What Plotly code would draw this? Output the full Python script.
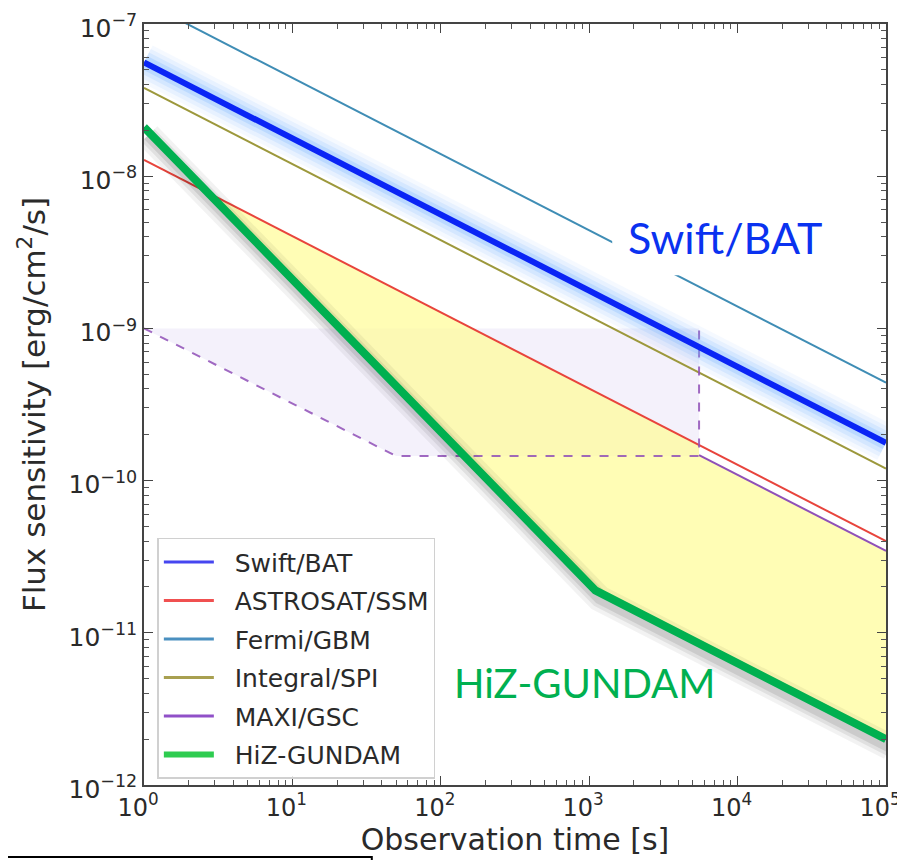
import plotly.graph_objects as go

# ---- data (observation time [s], flux sensitivity [erg/cm2/s]) ----
t_swift = [1, 1e5]
f_swift = [5.6e-8, 1.77e-10]

t_astro = [1, 1e5]
f_astro = [1.28e-8, 4.0e-11]

t_fermi = [1, 1e5]
f_fermi = [1.4e-7, 4.4e-10]

t_integral = [1, 1e5]
f_integral = [3.8e-8, 1.2e-10]

t_maxi_dash = [1, 50, 5500, 5500]
f_maxi_dash = [1e-9, 1.45e-10, 1.45e-10, 1.02e-9]

t_maxi = [5500, 1e5]
f_maxi = [1.47e-10, 3.45e-11]

t_hiz = [1, 1100, 1e5]
f_hiz = [2.1e-8, 1.9e-11, 2.0e-12]

# shaded regions
t_lav = [1, 50, 5500, 5500, 1]
f_lav = [1e-9, 1.45e-10, 1.45e-10, 1e-9, 1e-9]

t_yel = [2.69, 5500, 5500, 1e5, 1e5, 1100, 2.69]
f_yel = [7.8e-9, 1.72e-10, 1.47e-10, 3.45e-11, 2.0e-12, 1.9e-11, 7.8e-9]

x_ticks = [1, 10, 100, 1e3, 1e4, 1e5]
x_ticktext = ["10<sup>0</sup>", "10<sup>1</sup>", "10<sup>2</sup>", "10<sup>3</sup>", "10<sup>4</sup>", "10<sup>5</sup>"]
y_ticks = [1e-12, 1e-11, 1e-10, 1e-9, 1e-8, 1e-7]
y_ticktext = ["10<sup>\u221212</sup>", "10<sup>\u221211</sup>", "10<sup>\u221210</sup>",
              "10<sup>\u22129</sup>", "10<sup>\u22128</sup>", "10<sup>\u22127</sup>"]

legend_names = ["Swift/BAT", "ASTROSAT/SSM", "Fermi/GBM", "Integral/SPI", "MAXI/GSC", "HiZ-GUNDAM"]
legend_colors = ["#4646f0", "#f05050", "#4a90c0", "#a8a050", "#9050c8", "#2ecc50"]
legend_widths = [3, 3, 3, 3, 3, 6]

C_SWIFT = "#0a24f5"
C_ASTRO = "#e8443c"
C_FERMI = "#3f8db5"
C_INTEG = "#9c983c"
C_MAXI = "#9050b8"
C_HIZ = "#00b050"

fig = go.Figure()

# fills
fig.add_trace(go.Scatter(x=t_lav, y=f_lav, mode="lines", fill="toself",
                         fillcolor="rgba(205,190,235,0.22)", line=dict(width=0),
                         showlegend=False, hoverinfo="skip"))
fig.add_trace(go.Scatter(x=t_yel, y=f_yel, mode="lines", fill="toself",
                         fillcolor="rgba(255,252,150,0.70)", line=dict(width=0),
                         showlegend=False, hoverinfo="skip"))

# thin instrument lines
fig.add_trace(go.Scatter(x=t_fermi, y=f_fermi, mode="lines", line=dict(color=C_FERMI, width=2),
                         showlegend=False))
fig.add_trace(go.Scatter(x=t_integral, y=f_integral, mode="lines", line=dict(color=C_INTEG, width=2),
                         showlegend=False))
fig.add_trace(go.Scatter(x=t_astro, y=f_astro, mode="lines", line=dict(color=C_ASTRO, width=2),
                         showlegend=False))
fig.add_trace(go.Scatter(x=t_maxi_dash, y=f_maxi_dash, mode="lines",
                         line=dict(color=C_MAXI, width=2, dash="dash"), opacity=0.85,
                         showlegend=False))
fig.add_trace(go.Scatter(x=t_maxi, y=f_maxi, mode="lines", line=dict(color=C_MAXI, width=2),
                         showlegend=False))

# Swift/BAT glow + line
for w, a in [(38, 0.07), (30, 0.10), (22, 0.15), (14, 0.24)]:
    fig.add_trace(go.Scatter(x=t_swift, y=f_swift, mode="lines",
                             line=dict(color=f"rgba(110,175,255,{a})", width=w),
                             showlegend=False, hoverinfo="skip"))
fig.add_trace(go.Scatter(x=t_swift, y=f_swift, mode="lines", line=dict(color=C_SWIFT, width=6),
                         showlegend=False))

# HiZ-GUNDAM shadow (shifted overlay axes) and line
for w, a in [(26, 0.05), (18, 0.07), (11, 0.09)]:
    fig.add_trace(go.Scatter(x=t_hiz, y=f_hiz, mode="lines", xaxis="x2", yaxis="y2",
                             line=dict(color=f"rgba(0,0,0,{a})", width=w),
                             showlegend=False, hoverinfo="skip"))
fig.add_trace(go.Scatter(x=t_hiz, y=f_hiz, mode="lines", xaxis="x3", yaxis="y3",
                         line=dict(color=C_HIZ, width=8), showlegend=False))

# legend entries
for i, (n, c, w) in enumerate(zip(legend_names, legend_colors, legend_widths)):
    fig.add_trace(go.Scatter(x=[None], y=[None], mode="lines", name="\u00a0\u00a0" + n,
                             line=dict(color=c, width=w), legendgroup=f"g{i}"))

minor_x = [k * 10 ** e for e in range(0, 5) for k in range(2, 10)]
minor_y = [k * 10.0 ** e for e in range(-12, -7) for k in range(2, 10)]

common = dict(type="log", showgrid=False, zeroline=False, showline=True, linecolor="#444",
              linewidth=1.5, mirror="allticks", ticks="inside", ticklen=9, tickwidth=1.3,
              tickcolor="#444", automargin=False, ticklabeloverflow="allow")

# page body has an 8px margin: figure is sized so that it ends at the window edge
fig.update_layout(
    width=897, height=852,
    margin=dict(l=136, r=19, t=16, b=75),
    paper_bgcolor="white", plot_bgcolor="white",
    xaxis=dict(range=[0, 5], tickmode="array", tickvals=x_ticks, ticktext=x_ticktext,
               tickfont=dict(family="DejaVu Sans", size=24, color="#2a2a2a"), ticklabelshift=-6,
               minor=dict(tickmode="array", tickvals=minor_x, ticks="inside", ticklen=5,
                          tickcolor="#555", showgrid=False),
               title=dict(text="Observation time [s]", standoff=3,
                          font=dict(family="DejaVu Sans", size=30, color="#2a2a2a")),
               **common),
    yaxis=dict(range=[-12, -7], tickmode="array", tickvals=y_ticks, ticktext=y_ticktext,
               tickfont=dict(family="DejaVu Sans", size=25, color="#2a2a2a"), ticklabelshift=4,
               minor=dict(tickmode="array", tickvals=minor_y, ticks="inside", ticklen=5,
                          tickcolor="#555", showgrid=False),
               title=dict(text="Flux sensitivity [erg/cm<sup>2</sup>/s]", standoff=14,
                          font=dict(family="DejaVu Sans", size=31, color="#2a2a2a")),
               **common),
    xaxis2=dict(type="log", range=[-0.027, 4.973], overlaying="x", visible=False),
    yaxis2=dict(type="log", range=[-11.947, -6.947], overlaying="y", visible=False),
    xaxis3=dict(type="log", range=[0, 5], overlaying="x", visible=False),
    yaxis3=dict(type="log", range=[-12, -7], overlaying="y", visible=False),
    legend=dict(x=0.018, y=0.325, xanchor="left", yanchor="top",
                bgcolor="rgba(255,255,255,0.85)", bordercolor="#d0d0d0", borderwidth=1.5,
                font=dict(family="DejaVu Sans", size=25, color="#2a2a2a"),
                tracegroupgap=3, itemwidth=50),
    showlegend=True,
    shapes=[
        dict(type="rect", xref="paper", yref="paper", x0=0.631, x1=0.992, y0=0.670, y1=0.765,
             fillcolor="white", line=dict(width=0), layer="above"),
        dict(type="rect", xref="paper", yref="paper", x0=-0.25, x1=0.307, y0=-0.2, y1=-0.0946,
             fillcolor="rgba(0,0,0,0)", line=dict(color="black", width=2), layer="above"),
    ],
    annotations=[
        dict(text="Swift/BAT", xref="paper", yref="paper", x=0.783, y=0.719,
             xanchor="center", yanchor="middle",
             showarrow=False, font=dict(family="Lato", size=43, color="#0a32f0")),
        dict(text="HiZ-GUNDAM", xref="paper", yref="paper", x=0.594, y=0.134,
             xanchor="center", yanchor="middle",
             showarrow=False, font=dict(family="Lato", size=40, color="#00b050")),
    ],
)

fig.write_html("out.html")
